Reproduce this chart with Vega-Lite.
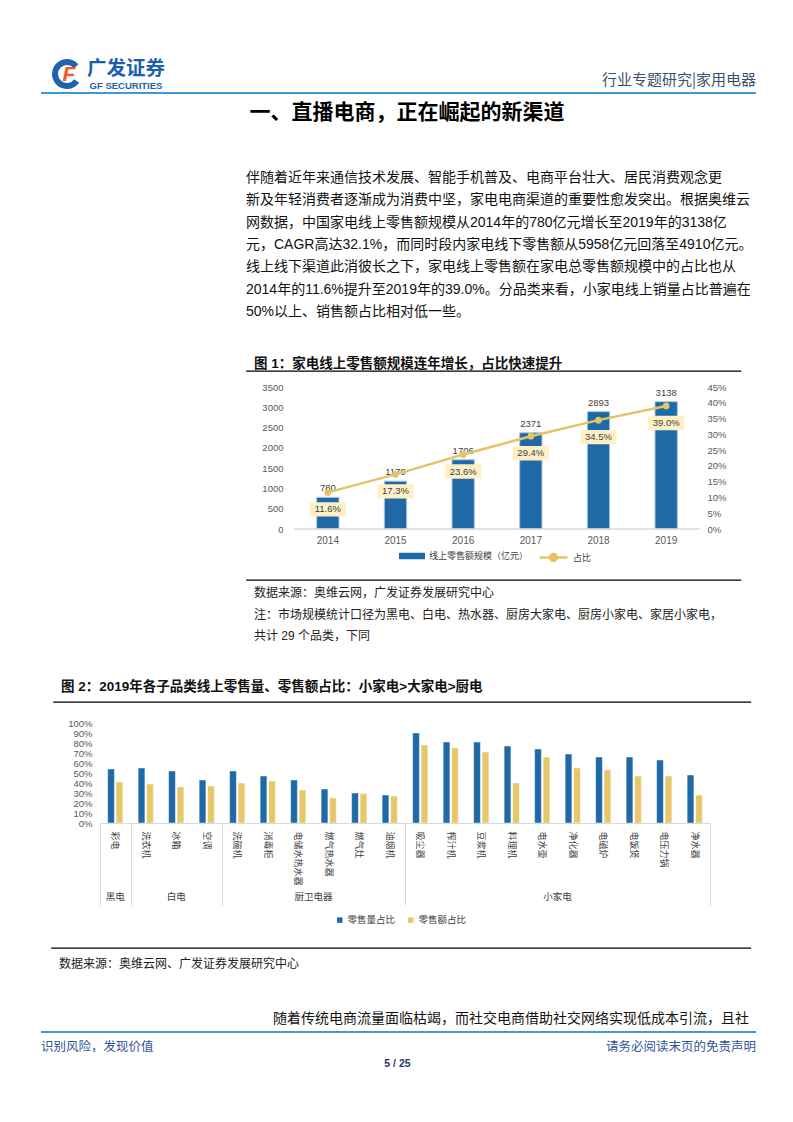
{
"$schema": "https://vega.github.io/schema/vega-lite/v6.json",
"background": "white",
"padding": 0,
"bounds": "flush",
"spacing": 0,
"resolve": {"scale": {"color": "independent", "fill": "independent", "stroke": "independent"}, "legend": {"color": "independent", "fill": "independent", "stroke": "independent"}},
"config": {
  "view": {"stroke": null},
  "font": "Liberation Sans, Noto Sans CJK SC",
  "axis": {"grid": false, "ticks": false}
},
"vconcat": [
{"width":793,"height":55,"data":{"values":[]},"mark":"text"},

{"width":132,"height":38,"data":{"values":[{"logo":"F","cn":"广发证券","en":"GF SECURITIES","right":"行业专题研究|家用电器"}]},
 "layer":[
  {"mark":{"type":"arc","theta":2.2,"theta2":7.15,"radius":15,"radius2":9,"color":"#1f63b0"},"encoding":{}},
  {"mark":{"type":"text","fontSize":21,"fontWeight":"bold","fontStyle":"italic","color":"#f0592a","dx":2,"dy":1},"encoding":{"text":{"field":"logo"}}},
  {"mark":{"type":"text","fontSize":19.5,"fontWeight":"bold","font":"Noto Sans CJK SC","color":"#1d5fae","dx":59,"dy":-5.5},"encoding":{"text":{"field":"cn"}}},
  {"mark":{"type":"text","fontSize":9.5,"fontWeight":"bold","font":"Liberation Sans","color":"#1d5fae","dx":59,"dy":11.5},"encoding":{"text":{"field":"en"}}},
  {"mark":{"type":"text","fontSize":15,"font":"Noto Sans CJK SC","color":"#3d4f6e","align":"right","dx":689,"dy":6},"encoding":{"text":{"field":"right"}}}
 ]},

{"width":755,"height":1,"data":{"values":[]},"mark":"text","view":{"stroke":"#3d9ad6","strokeWidth":2,"strokeDash":[0,40,715,100000]}},

{"width":793,"height":41,"data":{"values":[{"t":"一、直播电商，正在崛起的新渠道"}]},
 "mark":{"type":"text","fontSize":21,"fontWeight":"bold","font":"Noto Sans CJK SC","color":"#000000","dx":9.5,"dy":-1.5},
 "encoding":{"text":{"field":"t"}}},

{"width":793,"height":215,"data":{"values":[]},"mark":"text",
 "title":{"text":["　　伴随着近年来通信技术发展、智能手机普及、电商平台壮大、居民消费观念更","新及年轻消费者逐渐成为消费中坚，家电电商渠道的重要性愈发突出。根据奥维云","网数据，中国家电线上零售额规模从2014年的780亿元增长至2019年的3138亿","元，CAGR高达32.1%，而同时段内家电线下零售额从5958亿元回落至4910亿元。","线上线下渠道此消彼长之下，家电线上零售额在家电总零售额规模中的占比也从","2014年的11.6%提升至2019年的39.0%。分品类来看，小家电线上销量占比普遍在","50%以上、销售额占比相对低一些。"],
  "anchor":"start","frame":"group","orient":"top","baseline":"top","offset":-184,"dx":245,"fontSize":14,"fontWeight":"normal","color":"#111111","lineHeight":22.3}},

{"width":793,"height":21,"data":{"values":[]},"mark":"text",
 "title":{"text":"图 1：家电线上零售额规模连年增长，占比快速提升","anchor":"start","frame":"group","orient":"top","baseline":"top","offset":-20,"dx":253,"fontSize":13.5,"fontWeight":"bold","color":"#111111"}},

{"width":740,"height":1,"data":{"values":[]},"mark":"text","view":{"stroke":"#000000","strokeWidth":1.3,"strokeDash":[0,245,495,100000]}},

{"width":793,"height":15,"data":{"values":[]},"mark":"text"},

{"width":699,"height":142,
 "data":{"values":[
  {"year":"2014","sales":780,"share":0.116},
  {"year":"2015","sales":1179,"share":0.173},
  {"year":"2016","sales":1706,"share":0.236},
  {"year":"2017","sales":2371,"share":0.294},
  {"year":"2018","sales":2893,"share":0.345},
  {"year":"2019","sales":3138,"share":0.39}
 ]},
 "layer":[
  {"encoding":{
     "x":{"field":"year","type":"ordinal","scale":{"range":[293,699],"paddingInner":0.67,"paddingOuter":0.335},
       "axis":{"labelAngle":0,"labelFontSize":10,"labelColor":"#595959","domain":false,"ticks":false,"labelPadding":6,"title":null}},
     "y":{"field":"sales","type":"quantitative","scale":{"domain":[0,3500]},
       "axis":{"values":[0,500,1000,1500,2000,2500,3000,3500],"format":"d","offset":-293,"labelFontSize":9.5,"labelColor":"#595959","domain":false,"ticks":false,"grid":false,"labelPadding":11,"title":null}}},
   "layer":[
    {"mark":{"type":"bar","stroke":"#a9c6e3","strokeWidth":1},
     "encoding":{"fill":{"datum":"线上零售额规模（亿元）","type":"nominal","scale":{"range":["#1f6aa6"]},
       "legend":{"orient":"none","legendX":398,"legendY":156,"title":null,"symbolType":"M-1,-0.25L1,-0.25L1,0.25L-1,0.25Z","symbolSize":676,"symbolStrokeWidth":0,"labelFontSize":9,"labelColor":"#404040"}}}},
    {"mark":{"type":"text","baseline":"bottom","dy":-4,"fontSize":9.5,"color":"#404040"},
     "encoding":{"text":{"field":"sales","type":"quantitative","format":"d"}}}
   ]},
  {"encoding":{
     "x":{"field":"year","type":"ordinal","scale":{"range":[293,699],"paddingInner":0.67,"paddingOuter":0.335},
       "axis":{"labelAngle":0,"labelFontSize":10,"labelColor":"#595959","domain":false,"ticks":false,"labelPadding":6,"title":null}},
     "y":{"field":"share","type":"quantitative","scale":{"domain":[0,0.45]},
       "axis":{"orient":"right","values":[0,0.05,0.1,0.15,0.2,0.25,0.3,0.35,0.4,0.45],"format":".0%","labelFontSize":9.5,"labelColor":"#595959","domain":false,"ticks":false,"grid":false,"labelPadding":7,"title":null}}},
   "layer":[
    {"mark":{"type":"line","strokeWidth":2.5},
     "encoding":{"stroke":{"datum":"占比","type":"nominal","scale":{"range":["#e4c464"]},
       "legend":{"orient":"none","legendX":537,"legendY":155,"title":null,"symbolType":"M-1,0L1,0M-0.25,0A0.25,0.25 0 1,0 0.25,0A0.25,0.25 0 1,0 -0.25,0","symbolSize":784,"symbolStrokeWidth":2.5,"symbolFillColor":"#e4c464","labelFontSize":9,"labelColor":"#404040"}}}},
    {"mark":{"type":"point","filled":true,"size":45,"color":"#e4c464","opacity":1}},
    {"mark":{"type":"point","shape":"M-1,-0.4L1,-0.4L1,0.4L-1,0.4Z","size":1300,"filled":true,"color":"#fdf0c6","opacity":1,"yOffset":17}},
    {"mark":{"type":"text","dy":17,"fontSize":9.5,"color":"#404040"},
     "encoding":{"text":{"field":"share","type":"quantitative","format":".1%"}}}
   ]}
 ],
 "resolve":{"scale":{"y":"independent"}}},

{"width":699,"height":51,"data":{"values":[]},"mark":"text","view":{"stroke":"#d9d9d9","strokeWidth":1.5,"strokeDash":[0,293,406,100000]}},

{"width":740,"height":1,"data":{"values":[]},"mark":"text","view":{"stroke":"#000000","strokeWidth":1.3,"strokeDash":[0,245,495,100000]}},

{"width":793,"height":94,"data":{"values":[]},"mark":"text",
 "title":{"text":["数据来源：奥维云网，广发证券发展研究中心","注：市场规模统计口径为黑电、白电、热水器、厨房大家电、厨房小家电、家居小家电，","共计 29 个品类，下同"],
  "anchor":"start","frame":"group","orient":"top","baseline":"top","offset":-62,"dx":253,"fontSize":12,"fontWeight":"normal","color":"#222222","lineHeight":21.5}},

{"width":793,"height":27,"data":{"values":[]},"mark":"text",
 "title":{"text":"图 2：2019年各子品类线上零售量、零售额占比：小家电>大家电>厨电","anchor":"start","frame":"group","orient":"top","baseline":"top","offset":-18,"dx":60,"fontSize":13.5,"fontWeight":"bold","color":"#111111"}},

{"width":750,"height":1,"data":{"values":[]},"mark":"text","view":{"stroke":"#000000","strokeWidth":1.3,"strokeDash":[0,52,698,100000]}},

{"width":793,"height":20,"data":{"values":[]},"mark":"text"},

{"width":709,"height":100,
 "data":{"values":[
  {"item":"彩电","group":"黑电","metric":"零售量占比","v":0.54},
  {"item":"彩电","group":"黑电","metric":"零售额占比","v":0.41},
  {"item":"洗衣机","group":"白电","metric":"零售量占比","v":0.55},
  {"item":"洗衣机","group":"白电","metric":"零售额占比","v":0.39},
  {"item":"冰箱","group":"白电","metric":"零售量占比","v":0.52},
  {"item":"冰箱","group":"白电","metric":"零售额占比","v":0.36},
  {"item":"空调","group":"白电","metric":"零售量占比","v":0.43},
  {"item":"空调","group":"白电","metric":"零售额占比","v":0.37},
  {"item":"洗碗机","group":"厨卫电器","metric":"零售量占比","v":0.52},
  {"item":"洗碗机","group":"厨卫电器","metric":"零售额占比","v":0.40},
  {"item":"消毒柜","group":"厨卫电器","metric":"零售量占比","v":0.47},
  {"item":"消毒柜","group":"厨卫电器","metric":"零售额占比","v":0.42},
  {"item":"电储水热水器","group":"厨卫电器","metric":"零售量占比","v":0.43},
  {"item":"电储水热水器","group":"厨卫电器","metric":"零售额占比","v":0.33},
  {"item":"燃气热水器","group":"厨卫电器","metric":"零售量占比","v":0.34},
  {"item":"燃气热水器","group":"厨卫电器","metric":"零售额占比","v":0.25},
  {"item":"燃气灶","group":"厨卫电器","metric":"零售量占比","v":0.30},
  {"item":"燃气灶","group":"厨卫电器","metric":"零售额占比","v":0.295},
  {"item":"油烟机","group":"厨卫电器","metric":"零售量占比","v":0.28},
  {"item":"油烟机","group":"厨卫电器","metric":"零售额占比","v":0.27},
  {"item":"吸尘器","group":"小家电","metric":"零售量占比","v":0.90},
  {"item":"吸尘器","group":"小家电","metric":"零售额占比","v":0.78},
  {"item":"榨汁机","group":"小家电","metric":"零售量占比","v":0.81},
  {"item":"榨汁机","group":"小家电","metric":"零售额占比","v":0.75},
  {"item":"豆浆机","group":"小家电","metric":"零售量占比","v":0.81},
  {"item":"豆浆机","group":"小家电","metric":"零售额占比","v":0.71},
  {"item":"料理机","group":"小家电","metric":"零售量占比","v":0.77},
  {"item":"料理机","group":"小家电","metric":"零售额占比","v":0.40},
  {"item":"电水壶","group":"小家电","metric":"零售量占比","v":0.74},
  {"item":"电水壶","group":"小家电","metric":"零售额占比","v":0.66},
  {"item":"净化器","group":"小家电","metric":"零售量占比","v":0.69},
  {"item":"净化器","group":"小家电","metric":"零售额占比","v":0.55},
  {"item":"电磁炉","group":"小家电","metric":"零售量占比","v":0.66},
  {"item":"电磁炉","group":"小家电","metric":"零售额占比","v":0.53},
  {"item":"电饭煲","group":"小家电","metric":"零售量占比","v":0.66},
  {"item":"电饭煲","group":"小家电","metric":"零售额占比","v":0.47},
  {"item":"电压力锅","group":"小家电","metric":"零售量占比","v":0.63},
  {"item":"电压力锅","group":"小家电","metric":"零售额占比","v":0.47},
  {"item":"净水器","group":"小家电","metric":"零售量占比","v":0.48},
  {"item":"净水器","group":"小家电","metric":"零售额占比","v":0.28}
 ]},
 "layer":[
  {"mark":{"type":"bar","stroke":"#ffffff","strokeOpacity":0.45,"strokeWidth":1},
   "encoding":{
    "x":{"field":"item","type":"nominal","sort":null,"scale":{"range":[99,709],"paddingInner":0.5,"paddingOuter":0.25},
     "axis":{"orient":"bottom","labelAngle":90,"labelFontSize":9,"labelColor":"#404040","labelFont":"Noto Sans CJK SC","domain":false,"ticks":false,"labelPadding":8,"title":null}},
    "xOffset":{"field":"metric","type":"nominal","sort":null,"scale":{"paddingInner":0.2}},
    "y":{"field":"v","type":"quantitative","scale":{"domain":[0,1]},
     "axis":{"values":[0,0.1,0.2,0.3,0.4,0.5,0.6,0.7,0.8,0.9,1],"format":".0%","offset":-99,"labelFontSize":9.5,"labelColor":"#595959","domain":false,"ticks":false,"grid":false,"labelPadding":8,"title":null}},
    "color":{"field":"metric","type":"nominal","sort":null,"scale":{"domain":["零售量占比","零售额占比"],"range":["#1f6aa6","#e6c86a"]},
     "legend":{"orient":"none","legendX":334,"legendY":192,"direction":"horizontal","title":null,"symbolType":"square","symbolSize":30,"symbolStrokeWidth":0,"labelFontSize":9.5,"labelColor":"#404040","labelOffset":3,"columnPadding":10}}
   }},
  {"mark":{"type":"point","opacity":0},
   "encoding":{
    "x":{"field":"item","type":"nominal","sort":null,"scale":{"range":[99,709],"paddingInner":0.5,"paddingOuter":0.25},
     "axis":{"orient":"bottom","values":["彩电","洗衣机","洗碗机","吸尘器"],"bandPosition":0,"tickOffset":-7.625,"tickExtra":false,"ticks":true,"tickSize":82,"tickColor":"#d9d9d9","tickWidth":1,"labels":false,"domain":false,"title":null}}
   }}
 ],
 "resolve":{"axis":{"x":"independent"}}},

{"width":709,"height":82,"data":{"values":[{"g1":"黑电","g2":"白电","g3":"厨卫电器","g4":"小家电"}]},
 "view":{"stroke":"#d9d9d9","strokeWidth":1,"strokeDash":[0,99,692,100000]},
 "layer":[
  {"mark":{"type":"text","dx":-240.25,"dy":33,"fontSize":9.5,"color":"#404040","font":"Noto Sans CJK SC"},"encoding":{"text":{"field":"g1"}}},
  {"mark":{"type":"text","dx":-179.25,"dy":33,"fontSize":9.5,"color":"#404040","font":"Noto Sans CJK SC"},"encoding":{"text":{"field":"g2"}}},
  {"mark":{"type":"text","dx":-42,"dy":33,"fontSize":9.5,"color":"#404040","font":"Noto Sans CJK SC"},"encoding":{"text":{"field":"g3"}}},
  {"mark":{"type":"text","dx":202,"dy":33,"fontSize":9.5,"color":"#404040","font":"Noto Sans CJK SC"},"encoding":{"text":{"field":"g4"}}}
 ]},

{"width":793,"height":43,"data":{"values":[]},"mark":"text"},

{"width":750,"height":1,"data":{"values":[]},"mark":"text","view":{"stroke":"#000000","strokeWidth":1.3,"strokeDash":[0,50,700,100000]}},

{"width":793,"height":53,"data":{"values":[]},"mark":"text",
 "title":{"text":"数据来源：奥维云网、广发证券发展研究中心","anchor":"start","frame":"group","orient":"top","baseline":"top","offset":-22,"dx":58,"fontSize":12,"fontWeight":"normal","color":"#222222"}},

{"width":793,"height":30,"data":{"values":[]},"mark":"text",
 "title":{"text":"随着传统电商流量面临枯竭，而社交电商借助社交网络实现低成本引流，且社","anchor":"start","frame":"group","orient":"top","baseline":"top","offset":-24,"dx":272,"fontSize":14,"fontWeight":"normal","color":"#111111"}},

{"width":755,"height":1,"data":{"values":[]},"mark":"text","view":{"stroke":"#3d9ad6","strokeWidth":2,"strokeDash":[0,40,715,100000]}},

{"width":755,"height":24,"data":{"values":[{"l":"识别风险，发现价值","r":"请务必阅读末页的免责声明"}]},
 "layer":[
  {"mark":{"type":"text","align":"left","dx":-337.5,"dy":2,"fontSize":12.5,"font":"Noto Sans CJK SC","color":"#2f5597"},"encoding":{"text":{"field":"l"}}},
  {"mark":{"type":"text","align":"right","dx":377.5,"dy":2,"fontSize":12.5,"font":"Noto Sans CJK SC","color":"#2f5597"},"encoding":{"text":{"field":"r"}}}
 ]},

{"width":793,"height":14,"data":{"values":[{"p":"5 / 25"}]},"mark":{"type":"text","fontSize":10.5,"fontWeight":"bold","color":"#1f3864","font":"Liberation Sans"},"encoding":{"text":{"field":"p"}}}
]
}
